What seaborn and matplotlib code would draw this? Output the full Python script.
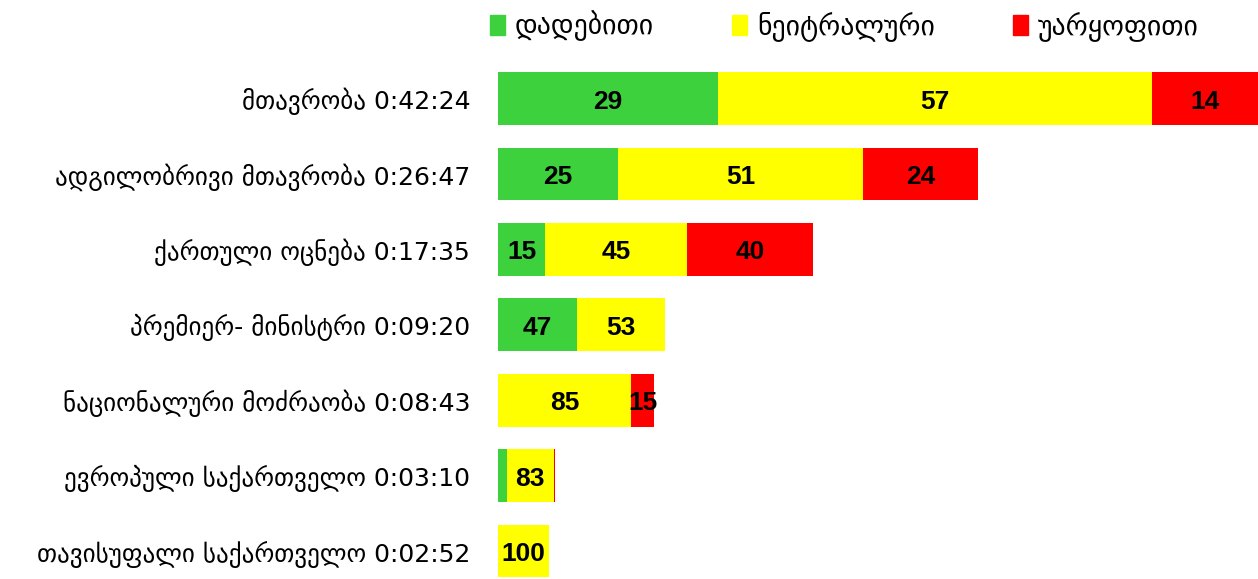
import matplotlib
matplotlib.use("Agg")
import matplotlib.pyplot as plt
import matplotlib.patches as mpatches
import seaborn as sns
import pandas as pd

# ------------------------------------------------------------------
# Data: airtime per subject and tone split (%)
# ------------------------------------------------------------------
subjects = [
    "მთავრობა",
    "ადგილობრივი მთავრობა",
    "ქართული ოცნება",
    "პრემიერ- მინისტრი",
    "ნაციონალური მოძრაობა",
    "ევროპული საქართველო",
    "თავისუფალი საქართველო",
]
durations = ["0:42:24", "0:26:47", "0:17:35", "0:09:20", "0:08:43", "0:03:10", "0:02:52"]
positive = [29, 25, 15, 47, 0, 15, 0]
neutral = [57, 51, 45, 53, 85, 83, 100]
negative = [14, 24, 40, 0, 15, 2, 0]

legend_names = ["დადებითი", "ნეიტრალური", "უარყოფითი"]
colors = ["#3DD13D", "#FFFF00", "#FF0000"]


def to_seconds(t):
    h, m, s = [int(p) for p in t.split(":")]
    return h * 3600 + m * 60 + s


df = pd.DataFrame({
    "label": [f"{s} {d}" for s, d in zip(subjects, durations)],
    "secs": [to_seconds(d) for d in durations],
    "pos": positive,
    "neu": neutral,
    "neg": negative,
})
df["pos_s"] = df["secs"] * df["pos"] / 100
df["neu_s"] = df["secs"] * df["neu"] / 100
df["neg_s"] = df["secs"] * df["neg"] / 100

# ------------------------------------------------------------------
# Plot
# ------------------------------------------------------------------
sns.set_style("white")
plt.rcParams["font.family"] = ["DejaVu Sans"]
plt.rcParams["text.color"] = "black"
plt.rcParams["ytick.color"] = "black"

fig = plt.figure(figsize=(12.58, 5.79), dpi=100)
ax = fig.add_axes([498 / 1258, 0, 760 / 1258, 1])

# stacked by layering cumulative totals
layers = [
    (df["pos_s"] + df["neu_s"] + df["neg_s"], colors[2]),
    (df["pos_s"] + df["neu_s"], colors[1]),
    (df["pos_s"], colors[0]),
]
for vals, col in layers:
    sns.barplot(x=vals, y=df["label"], orient="h", color=col, width=0.7,
                saturation=1, linewidth=0, ax=ax)

# segment labels (skip slivers too thin to hold text)
for i, row in df.iterrows():
    left = 0
    for pct, secs in [(row["pos"], row["pos_s"]), (row["neu"], row["neu_s"]), (row["neg"], row["neg_s"])]:
        if secs >= 50:
            ax.text(left + secs / 2, i + 0.04, f"{pct:d}", ha="center", va="center",
                    fontsize=19, fontweight="bold", family="Liberation Sans", color="black")
        left += secs

ax.set_xlim(0, df["secs"].max())
ax.set_ylim(6.37, -1.306)
ax.set_xlabel("")
ax.set_ylabel("")
ax.set_xticks([])
ax.tick_params(axis="y", length=0, pad=20, labelsize=18)
sns.despine(ax=ax, left=True, bottom=True)

handles = [mpatches.Patch(color=c, label=n) for c, n in zip(colors, legend_names)]
fig.legend(handles=handles, loc="upper left", bbox_to_anchor=(465 / 1258, 1.025),
           ncol=3, frameon=False, fontsize=20, handlelength=0.55, handleheight=0.75,
           handletextpad=0.35, columnspacing=2.8)

plt.savefig("out.png", dpi=100)
plt.close()
